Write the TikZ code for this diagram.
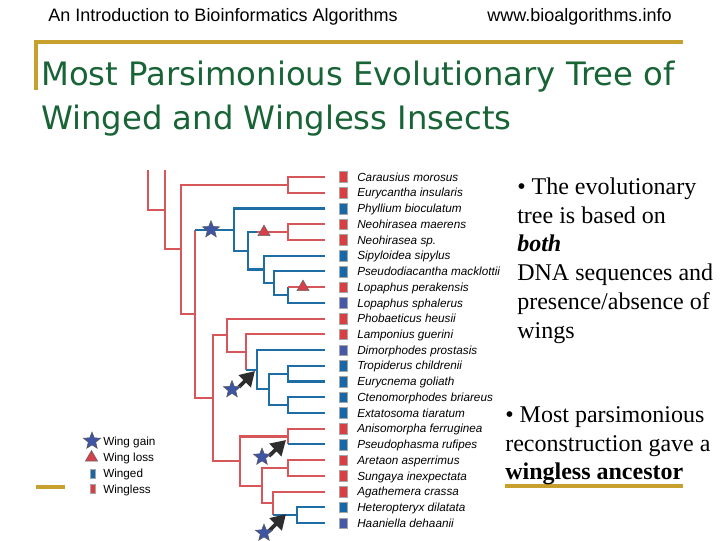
\documentclass[tikz,border=0pt]{standalone}
\usepackage{fontspec}
\setmainfont{Liberation Serif}
\setsansfont{Liberation Sans}
\newfontfamily\titlefont{DejaVu Sans}
\usetikzlibrary{shapes.geometric,arrows.meta}

\definecolor{gold}{RGB}{200,160,45}
\definecolor{titlegreen}{RGB}{25,100,55}
\definecolor{brRed}{RGB}{214,86,90}
\definecolor{brBlue}{RGB}{30,110,165}
\definecolor{sqRed}{RGB}{218,62,64}
\definecolor{sqBlue}{RGB}{22,104,168}
\definecolor{sqPurp}{RGB}{70,88,168}
\definecolor{starFill}{RGB}{62,84,165}
\definecolor{triFill}{RGB}{214,64,74}
\definecolor{arrowDark}{RGB}{45,45,45}

\begin{document}
\begin{tikzpicture}[x=0.75pt,y=-0.75pt,
  R/.style={draw=brRed,line width=1.6pt},
  B/.style={draw=brBlue,line width=1.6pt},
  goldline/.style={draw=gold,line width=2.3pt},
  gainstar/.style={star,star points=5,star point ratio=2.3,minimum size=13.5pt,inner sep=0pt,fill=starFill,draw=black!65,line width=0.4pt},
  lossmark/.style={regular polygon,regular polygon sides=3,minimum size=10.5pt,inner sep=0pt,fill=triFill,draw=black!60,line width=0.4pt},
  sqm/.style={rectangle,minimum width=5.6pt,minimum height=8pt,inner sep=0pt,draw=black!35,line width=0.3pt},
  legsq/.style={rectangle,minimum width=3.8pt,minimum height=7pt,inner sep=0pt,draw=black!35,line width=0.3pt},
  gainarrow/.style={draw=arrowDark,line width=2.8pt,-{Triangle[length=11pt,width=12.5pt]}},
  lab/.style={anchor=base west,inner sep=0pt,font=\sffamily\itshape\fontsize{8.8}{10}\selectfont},
  legtext/.style={anchor=base west,inner sep=0pt,font=\sffamily\fontsize{8.8}{10}\selectfont},
  body/.style={anchor=base west,inner sep=0pt,font=\rmfamily\fontsize{18}{21.6}\selectfont},
  hdr/.style={anchor=base,inner sep=0pt,font=\sffamily\fontsize{13.5}{15}\selectfont},
  ttl/.style={anchor=base west,inner sep=0pt,text=titlegreen,font=\titlefont\fontsize{24.2}{28}\selectfont}
]
\path[use as bounding box] (0,0) rectangle (720,540);

% header
\node[hdr] (hdrL) at (223,21) {An Introduction to Bioinformatics Algorithms};
\node[hdr] (hdrR) at (579.5,21) {www.bioalgorithms.info};

% frame
\draw[goldline] (36,90) -- (36,42) -- (683,42);
\draw[goldline] (36,487) -- (65,487);
\draw[goldline] (505,486) -- (683,486);

% title
\node[ttl] (title1) at (41,85) {Most Parsimonious Evolutionary Tree of};
\node[ttl] (title2) at (41,129) {Winged and Wingless Insects};

% leaves
\foreach \i in {1,...,23} {\coordinate (l\i) at (325,{177+(\i-1)*15.73});}

% internal nodes
\coordinate (top148) at (148,170);
\coordinate (top165) at (165,170);
\coordinate (n165) at (165,209.7);
\coordinate (n181) at (181,249.4);
\coordinate (nCE) at (288,184.85);
\coordinate (n195) at (195,313.9);
\coordinate (nPhy) at (234,229.6);
\coordinate (nNA) at (248,250.75);
\coordinate (nNeo) at (288,232.05);
\coordinate (sNeo) at (257,232.05);
\coordinate (nA) at (264,269.45);
\coordinate (nB) at (274,283.2);
\coordinate (nLop) at (288,294.95);
\coordinate (n213) at (213,398.2);
\coordinate (n227) at (227,335.3);
\coordinate (n246) at (246,352);
\coordinate (n257) at (257,369.7);
\coordinate (n269) at (269,389.4);
\coordinate (nTE) at (288,373.65);
\coordinate (nCtE) at (288,405.1);
\coordinate (n240) at (240,461.1);
\coordinate (nAP) at (288,436.55);
\coordinate (n262) at (262,485.7);
\coordinate (nAS) at (288,468);
\coordinate (n273) at (273,503.4);
\coordinate (nHH) at (297,515.15);

% branches
\draw[R] (top148) -- (top148 |- n165) -- (n165);
\draw[R] (top165) -- (top165 |- n181) -- (n181);
\draw[R] (nCE) -- (n181 |- nCE) -- (n181 |- n195) -- (n195);
\draw[R] (l1) -- (nCE |- l1) -- (nCE |- l2) -- (l2);
\draw[R] (n195 |- nPhy) -- (n195 |- n213) -- (n213);
\draw[B] (n195 |- nPhy) -- (nPhy);
\draw[B] (l3) -- (nPhy |- l3) -- (nPhy |- nNA) -- (nNA);
\draw[B] (sNeo) -- (nNA |- nNeo) -- (nNA |- nA) -- (nA);
\draw[R] (sNeo) -- (nNeo);
\draw[R] (l4) -- (nNeo |- l4) -- (nNeo |- l5) -- (l5);
\draw[B] (l6) -- (nA |- l6) -- (nA |- nB) -- (nB);
\draw[B] (l7) -- (nB |- l7) -- (nB |- nLop) -- (nLop);
\draw[B] (nLop |- l8) -- (nLop |- l9) -- (l9);
\draw[R] (nLop |- l8) -- (l8);
\draw[R] (n227) -- (n213 |- n227) -- (n213 |- n240) -- (n240);
\draw[R] (l10) -- (n227 |- l10) -- (n227 |- n246) -- (n246);
\draw[R] (l11) -- (n246 |- l11) -- (n246 |- n257);
\draw[B] (n246 |- n257) -- (n257);
\draw[B] (l12) -- (n257 |- l12) -- (n257 |- n269) -- (n269);
\draw[B] (nTE) -- (n269 |- nTE) -- (n269 |- nCtE) -- (nCtE);
\draw[B] (l13) -- (nTE |- l13) -- (nTE |- l14) -- (l14);
\draw[B] (l15) -- (nCtE |- l15) -- (nCtE |- l16) -- (l16);
\draw[R] (nAP) -- (n240 |- nAP) -- (n240 |- n262) -- (n262);
\draw[R] (l17) -- (nAP |- l17) -- (nAP |- l18);
\draw[B] (nAP |- l18) -- (l18);
\draw[R] (nAS) -- (n262 |- nAS) -- (n262 |- n273) -- (n273);
\draw[R] (l19) -- (nAS |- l19) -- (nAS |- l20) -- (l20);
\draw[R] (l21) -- (n273 |- l21) -- (n273 |- nHH);
\draw[B] (n273 |- nHH) -- (nHH);
\draw[B] (l22) -- (nHH |- l22) -- (nHH |- l23) -- (l23);

% events
\node[gainstar] (g1) at (211,229.6) {};
\node[lossmark] (x1) at (264,232.05) {};
\node[lossmark] (x2) at (303,287.1) {};
\coordinate (a1s) at (239,387); \coordinate (a1e) at (255,371);
\coordinate (a2s) at (269,456); \coordinate (a2e) at (286,440);
\coordinate (a3s) at (269,531); \coordinate (a3e) at (286,514);
\draw[gainarrow] (a1s) -- (a1e);
\draw[gainarrow] (a2s) -- (a2e);
\draw[gainarrow] (a3s) -- (a3e);
\node[gainstar] (g2) at (232,389.5) {};
\node[gainstar] (g3) at (262,457) {};
\node[gainstar] (g4) at (264,533) {};

% taxa
\foreach \i/\nm/\cl in {
  1/Carausius morosus/sqRed,
  2/Eurycantha insularis/sqRed,
  3/Phyllium bioculatum/sqBlue,
  4/Neohirasea maerens/sqRed,
  5/Neohirasea sp./sqRed,
  6/Sipyloidea sipylus/sqBlue,
  7/Pseudodiacantha macklottii/sqBlue,
  8/Lopaphus perakensis/sqRed,
  9/Lopaphus sphalerus/sqPurp,
  10/Phobaeticus heusii/sqRed,
  11/Lamponius guerini/sqRed,
  12/Dimorphodes prostasis/sqPurp,
  13/Tropiderus childrenii/sqBlue,
  14/Eurycnema goliath/sqBlue,
  15/Ctenomorphodes briareus/sqBlue,
  16/Extatosoma tiaratum/sqBlue,
  17/Anisomorpha ferruginea/sqRed,
  18/Pseudophasma rufipes/sqBlue,
  19/Aretaon asperrimus/sqRed,
  20/Sungaya inexpectata/sqRed,
  21/Agathemera crassa/sqRed,
  22/Heteropteryx dilatata/sqBlue,
  23/Haaniella dehaanii/sqPurp} {
  \node[sqm,fill=\cl] (q\i) at (343,{177+(\i-1)*15.73}) {};
  \node[lab] (t\i) at (357,{181.2+(\i-1)*15.73}) {\nm};
}

% legend
\node[gainstar] (lg1) at (92,441) {};
\node[lossmark] (lg2) at (91.5,457.5) {};
\node[legsq,fill=sqBlue] (lg3) at (92.5,473.5) {};
\node[legsq,fill=sqRed] (lg4) at (92.5,489) {};
\node[legtext] (lt1) at (103,445.3) {Wing gain};
\node[legtext] (lt2) at (103,461.3) {Wing loss};
\node[legtext] (lt3) at (103,477.3) {Winged};
\node[legtext] (lt4) at (103,493.3) {Wingless};

% right text
\node[body] (p1) at (517,194) {• The evolutionary};
\node[body] (p2) at (517,223) {tree is based on};
\node[body] (p3) at (517,251) {\textbf{\textit{both}}};
\node[body] (p4) at (517,280) {DNA sequences and};
\node[body] (p5) at (517,309) {presence/absence of};
\node[body] (p6) at (517,338) {wings};
\node[body] (b1) at (505,422) {• Most parsimonious};
\node[body] (b2) at (505,451) {reconstruction gave a};
\node[body] (b3) at (505,479) {\textbf{wingless ancestor}};
\end{tikzpicture}
\end{document}
